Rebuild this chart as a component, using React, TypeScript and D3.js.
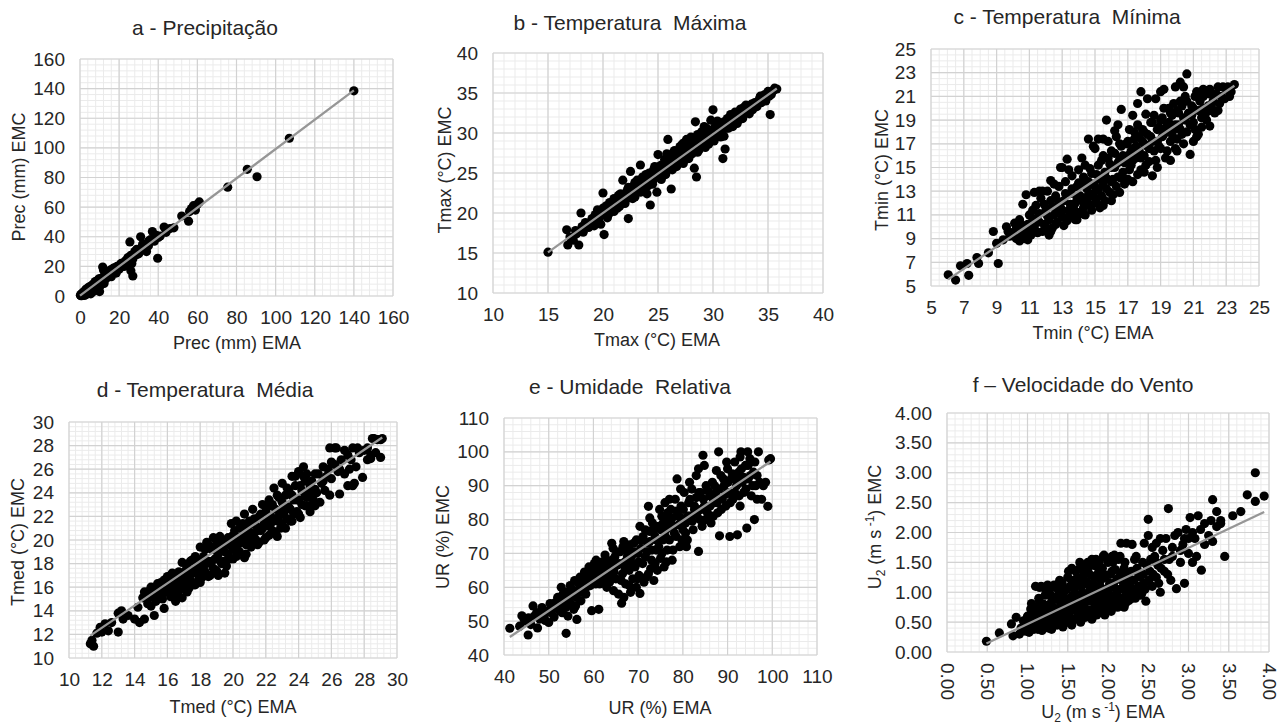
import React, { useEffect, useRef } from 'react'
import * as d3 from 'd3'

type Pt = [number, number]

// a - Precipitação (EMA, EMC)
const precPts: Pt[] = [
  [0.2, 0.5], [0.5, 0.2], [0.8, 1.2], [1, 0.3], [1.2, 1.8], [1.5, 0.8], [1.8, 2.5], [2, 1.2], [2.3, 0.4], [2.5, 3.2],
  [2.8, 2], [3, 4.5], [3.2, 1], [3.5, 3], [3.8, 5.2], [4, 2.2], [4.3, 4], [4.6, 6], [5, 3.5], [5.2, 5],
  [5.5, 1.5], [5.8, 7], [6, 4.5], [6.3, 6.3], [6.6, 2.8], [7, 8.2], [7.2, 5.5], [7.5, 7], [7.8, 9.8], [8, 4],
  [8.3, 8.5], [8.7, 6.2], [9, 10.5], [9.3, 8], [9.6, 11.5], [10, 3], [10.2, 9.5], [10.6, 7.5], [11, 12], [11.3, 10],
  [11.6, 19.5], [12, 17.5], [12.3, 8.5], [12.6, 13], [13, 11.5], [13.5, 15], [14, 12.5], [14.5, 16], [15, 14], [15.5, 17.5],
  [16, 13], [16.5, 18], [17, 16], [17.5, 19], [18, 17.5], [18.5, 15.5], [19, 20], [20, 18], [20.5, 21], [21, 19.5],
  [22, 22], [22.5, 20], [23, 23.5], [24, 21.5], [24.5, 26], [25, 24], [25.5, 36.5], [26, 17], [26.5, 22], [27, 13.5],
  [27.5, 27], [28, 30], [29, 31.5], [30, 28.5], [31, 40], [32, 35], [33, 33.5], [34, 30], [35, 37], [36, 38],
  [37, 43.5], [38, 37], [39, 41], [39.7, 25.5], [40, 39.5], [41, 40.5], [43, 46.5], [44, 43], [46, 45.5], [48, 46],
  [52, 54], [55.5, 50.5], [56, 57], [57, 59], [58, 61], [59, 58], [60, 62], [61, 63.5], [75.5, 73.5], [85.5, 85.5],
  [90.5, 80.5], [107, 106.5], [140, 138.5],
  [0.5, 1], [1, 1.5], [1.5, 2], [2, 2.8], [2.5, 2], [3, 3], [3.5, 4.2], [4, 3.5], [4.5, 5], [5, 6],
  [5.5, 4.5], [6, 6.5], [6.5, 5.5], [7, 6.8], [7.5, 8.5], [8, 7.5], [8.5, 9.5], [9, 7], [9.5, 9.5], [10, 10.5],
  [10.5, 11.5], [11, 9], [11.5, 12.5], [12, 11], [13, 13.5], [14, 15.5], [15, 16.5], [16, 16], [17, 18.5], [18, 19],
  [19, 18], [20, 20.5], [21, 22], [23, 21], [24, 24.5], [25, 22.5], [26, 27.5], [27, 25], [29, 28], [32, 33], [35, 34]
]

// b - Temperatura Máxima
const tmaxPts: Pt[] = [
  [15, 15.1], [16.7, 17.9], [16.8, 16], [17, 17], [17.3, 16.6], [17.6, 17.4], [17.8, 16], [18, 20], [18.1, 18.3], [18.4, 18.8],
  [18.7, 18.2], [19, 19.3], [19.2, 18.4], [19.5, 20.4], [19.6, 19.2], [19.8, 18.6], [20, 22.5], [20.1, 17.3], [20.2, 20], [20.3, 20.9],
  [20.5, 19.8], [20.6, 21.3], [20.8, 20.4], [21, 21.8], [21, 20.2], [21.2, 21], [21.4, 22.2], [21.5, 20.8], [21.7, 21.6], [21.8, 24.1],
  [21.9, 22.3], [22, 21.2], [22.2, 22.8], [22.3, 19.3], [22.4, 21.9], [22.5, 25.2], [22.6, 22.5], [22.8, 23.4], [22.9, 22], [23, 23],
  [23.1, 24.1], [23.3, 22.7], [23.4, 26], [23.5, 23.6], [23.6, 24.5], [23.8, 23.2], [24, 24], [24, 22.4], [24.2, 25], [24.3, 21],
  [24.4, 24.3], [24.5, 23.6], [24.6, 25.4], [24.8, 24.8], [24.9, 22.6], [25, 27.3], [25, 25.2], [25.2, 24.6], [25.3, 26], [25.5, 25.3],
  [25.6, 26.7], [25.7, 24.8], [25.8, 27.4], [25.9, 29.2], [26, 25.8], [26, 26.6], [26.2, 23], [26.2, 27], [26.3, 25.4], [26.5, 26.2],
  [26.5, 27.8], [26.7, 25.8], [26.8, 27.2], [27, 26.6], [27, 28.3], [27.2, 27.6], [27.3, 26.2], [27.4, 28.8], [27.5, 27.2], [27.6, 29.2],
  [27.8, 27.8], [27.8, 26.8], [28, 28.4], [28, 29.5], [28.1, 27.4], [28.2, 28.9], [28.3, 25.6], [28.4, 31.4], [28.5, 24.5], [28.5, 28.2],
  [28.6, 29.8], [28.7, 27.8], [28.8, 29], [29, 28.6], [29, 30.2], [29.2, 29.4], [29.3, 28.2], [29.4, 30.6], [29.5, 29.2], [29.6, 28.6],
  [29.7, 30.2], [29.8, 31.6], [29.9, 29.6], [30, 32.9], [30, 30.4], [30.1, 29], [30.2, 30.8], [30.3, 29.8], [30.4, 31.5], [30.5, 30.2],
  [30.6, 31], [30.7, 29.5], [30.8, 30.6], [30.9, 26.8], [31, 31.4], [31.1, 28], [31.2, 30.6], [31.3, 31.8], [31.5, 31], [31.6, 32.3],
  [31.8, 30.8], [32, 31.6], [32, 32.6], [32.2, 31.2], [32.4, 32], [32.5, 33], [32.7, 31.8], [32.9, 32.5], [33, 33.5], [33.2, 32.6],
  [33.4, 33.2], [33.6, 32.9], [33.8, 33.8], [34, 33.3], [34.2, 34.2], [34.4, 33.8], [34.6, 34.4], [34.8, 34], [35, 35.2], [35.2, 32.3],
  [35.3, 34.8], [35.5, 35.3], [35.8, 35.5],
  [17.5, 17.8], [18.2, 17.6], [18.9, 18.8], [19.3, 19.8], [19.7, 19.8], [20, 20.6], [20.4, 19.4], [20.7, 20.2], [20.9, 21.4], [21.3, 20.6],
  [21.6, 22.4], [21.8, 21.2], [22.1, 22.2], [22.3, 23.2], [22.7, 21.8], [22.9, 23.8], [23.2, 23.4], [23.4, 22.6], [23.7, 24], [23.9, 24.8],
  [24.1, 23.4], [24.3, 24.6], [24.6, 24.2], [24.7, 25.8], [24.9, 25.4], [25.1, 25.8], [25.3, 24.2], [25.4, 25.6], [25.6, 25.2], [25.8, 26],
  [26.1, 26.2], [26.3, 26.8], [26.4, 27.6], [26.6, 26.6], [26.9, 26.4], [27.1, 27.2], [27.2, 28.6], [27.4, 27.8], [27.6, 26.8], [27.7, 28.2],
  [27.9, 29], [28.1, 28.4], [28.3, 29.4], [28.4, 28], [28.6, 27.6], [28.9, 30], [29.1, 29.2], [29.2, 30.8], [29.4, 29.2], [29.6, 30.4],
  [29.8, 29.4], [30.1, 30.2], [30.3, 31.2], [30.5, 29.8], [30.7, 31.2], [30.9, 30.6], [31, 29.6], [31.2, 31.4], [31.4, 30.6], [31.6, 31.4],
  [31.8, 32.2], [31.9, 31.2], [32.1, 32], [32.3, 31.6], [32.6, 32.4], [32.8, 33.2], [33.1, 33], [33.3, 32.4], [33.5, 33.6], [33.7, 33.4],
  [34.1, 33.8], [34.3, 34.6], [34.7, 34.8], [35.1, 34.6], [35.6, 35.6]
]

// c - Temperatura Mínima
const tminPts: Pt[] = [
  [6.05, 5.95], [6.5, 5.5], [6.8, 6.7], [7.2, 6.9], [7.3, 5.9], [7.8, 7.4], [7.9, 6.9], [8.5, 7.8], [8.8, 9.6], [9, 8.6],
  [9.1, 6.9], [9.4, 8.9], [9.6, 10], [9.8, 9.2], [10, 9.5], [10.1, 10.3], [10.2, 9], [10.4, 10.6], [10.5, 9.4], [10.6, 11.9],
  [10.7, 9], [10.8, 12.7], [10.9, 10.2], [11, 11], [11.1, 9.3], [11.2, 10.7], [11.4, 11.8], [11.5, 9.5], [11.6, 10.4], [11.7, 12.4],
  [11.8, 13], [12, 10], [12, 11.4], [12.1, 13], [12.2, 10.6], [12.3, 12.2], [12.4, 9.9], [12.5, 11], [12.6, 12.6], [12.7, 10.4],
  [12.8, 13.4], [12.9, 15], [12.9, 11.6], [13, 10.8], [13.1, 12.2], [13.2, 13.8], [13.3, 15.7], [13.3, 10.5], [13.4, 11.4], [13.5, 12.8],
  [13.6, 14.3], [13.7, 10.9], [13.8, 12], [13.9, 13.4], [14, 11.2], [14, 14.8], [14.1, 12.6], [14.2, 13.6], [14.3, 11.6], [14.4, 15.2],
  [14.5, 12.3], [14.6, 17.4], [14.6, 13.8], [14.7, 11.8], [14.8, 14.5], [14.9, 12.8], [15, 16.6], [15, 13.4], [15.1, 12], [15.2, 15.2],
  [15.3, 14], [15.4, 12.6], [15.5, 16], [15.6, 14.6], [15.7, 19], [15.7, 13.2], [15.8, 17.2], [15.9, 15.3], [16, 13.8], [16, 16.4],
  [16.1, 12.7], [16.2, 15], [16.3, 17.6], [16.4, 14.2], [16.5, 15.7], [16.6, 19.9], [16.6, 16.8], [16.7, 14.6], [16.8, 15.4], [16.9, 17],
  [17, 16], [17, 14], [17.1, 18.2], [17.2, 15.2], [17.3, 16.6], [17.4, 17.4], [17.5, 15.8], [17.6, 18.6], [17.7, 16.4], [17.8, 21.4],
  [17.8, 14.8], [17.9, 17.2], [18, 16], [18, 18], [18.1, 19.5], [18.2, 16.8], [18.3, 15.5], [18.4, 17.6], [18.5, 14.3], [18.5, 18.8],
  [18.6, 16.4], [18.7, 20.8], [18.8, 17.2], [18.9, 18.4], [19, 21.4], [19, 16.6], [19.1, 19.2], [19.2, 17.8], [19.3, 15.8], [19.4, 18.6],
  [19.5, 20], [19.6, 17.2], [19.7, 19.4], [19.8, 18.2], [19.9, 21.8], [20, 16.4], [20, 19.8], [20.1, 18.6], [20.2, 20.6], [20.3, 17.8],
  [20.4, 19.2], [20.5, 21], [20.6, 22.9], [20.6, 18], [20.7, 19.6], [20.8, 16.1], [20.9, 20.2], [21, 18.8], [21.1, 21], [21.2, 17.6],
  [21.3, 19.8], [21.4, 20.6], [21.5, 18.4], [21.6, 21], [21.7, 19.4], [21.8, 21.5], [21.9, 20.2], [22, 19.8], [22.2, 20.6], [22.4, 21.2],
  [22.6, 20.4], [22.8, 21.8], [22.9, 20.8], [23, 21.6], [23.2, 21], [23.5, 22],
  [10.3, 9.8], [10.6, 10.1], [10.9, 9.6], [11.2, 11.4], [11.3, 10], [11.6, 11.1], [11.9, 10.2], [11.9, 11.9], [12.1, 10.9], [12.3, 9.6],
  [12.4, 11.7], [12.6, 10.2], [12.7, 11.3], [12.8, 12.1], [13, 11.4], [13.1, 10.1], [13.2, 12.8], [13.4, 10.9], [13.5, 11.9], [13.6, 13.2],
  [13.7, 11.5], [13.8, 10.6], [13.9, 12.5], [14, 13.7], [14.1, 11.1], [14.2, 12.2], [14.3, 14.2], [14.4, 11.9], [14.5, 13.2], [14.6, 12.7],
  [14.7, 14.9], [14.8, 11.4], [14.9, 13.6], [15, 12.4], [15.1, 14.4], [15.2, 13.1], [15.3, 11.6], [15.4, 15.6], [15.5, 13.6], [15.6, 12.2],
  [15.7, 14.1], [15.8, 15.8], [15.9, 12.9], [16, 15], [16.1, 14], [16.2, 16.2], [16.3, 13.4], [16.4, 15.4], [16.5, 17], [16.6, 14.1],
  [16.7, 16], [16.8, 13.6], [16.9, 15.8], [17, 17.2], [17.1, 14.8], [17.2, 16.4], [17.3, 15.6], [17.4, 18], [17.5, 16.8], [17.6, 14.4],
  [17.7, 17.6], [17.8, 15.8], [17.9, 18.2], [18, 17], [18.1, 15.2], [18.2, 17.8], [18.3, 16.6], [18.4, 18.8], [18.5, 17.2], [18.6, 19.4],
  [18.7, 15.6], [18.8, 18.2], [18.9, 16.8], [19, 19], [19.1, 17.6], [19.2, 20], [19.3, 18.2], [19.4, 16.4], [19.5, 18.8], [19.6, 19.6],
  [19.7, 17.8], [19.8, 20.4], [19.9, 18.6], [20, 17.4], [20.1, 19.6], [20.2, 18.2], [20.3, 20.2], [20.4, 17], [20.5, 19], [20.6, 20.6],
  [20.8, 18.6], [20.9, 19.4], [21, 20], [21.1, 18.2], [21.3, 21], [21.5, 19.2], [21.6, 20], [21.8, 19], [22, 21.2], [22.1, 20.2],
  [22.3, 19.6], [22.5, 21.8], [22.7, 21], [23.1, 21.8], [23.3, 21.4],
  [11.3, 12.9], [11.6, 13], [12.3, 13.9], [12.5, 13.6], [13, 15], [13.4, 14.8], [14.2, 15.8], [14.9, 16.8], [15.2, 17.4], [15.5, 17.4],
  [16.2, 18.1], [16.4, 18.6], [17.3, 19.4], [17.6, 20.4], [18.2, 20.8], [19.2, 21.6], [20.2, 22.2], [20.4, 21.8], [21.2, 21.4], [21.6, 21.6],
  [22, 21.6], [13.9, 10.6], [14.4, 11], [15.5, 11.8], [16, 12.2], [16.5, 12.9], [17.3, 13.8], [18, 14.6], [18.8, 15], [19.6, 15.6],
  [19.9, 16.6], [21, 17.2], [21.3, 17.8], [22, 18.5], [22.5, 19.8], [9.7, 9.6], [10.2, 9.8], [10.4, 8.8], [10.9, 8.9], [11.4, 9.6],
  [11.8, 9.6], [12.2, 9.3]
]

// d - Temperatura Média
const tmedPts: Pt[] = [
  [11.3, 11.2], [11.4, 11.5], [11.5, 11], [11.7, 12.1], [11.9, 12.6], [12, 12.2], [12.2, 12.9], [12.4, 12.3], [12.6, 13], [13, 12.2],
  [13, 13.8], [13.2, 14], [13.3, 13.3], [13.6, 13.6], [14, 13.3], [14.2, 14.3], [14.3, 13], [14.6, 13.3], [14.6, 15.6], [14.8, 14.6],
  [15, 16], [15, 14.4], [15.2, 13.6], [15.3, 15.4], [15.4, 16.3], [15.6, 15.8], [15.8, 14.2], [15.8, 16.6], [16, 15.8], [16, 16.9],
  [16.2, 15.2], [16.3, 17.2], [16.4, 16.2], [16.5, 14.8], [16.6, 17], [16.7, 15.7], [16.8, 16.6], [16.9, 18.1], [17, 16.1], [17.1, 17.4],
  [17.2, 15.6], [17.3, 16.8], [17.4, 18.2], [17.5, 17.2], [17.6, 16.2], [17.7, 18.6], [17.8, 17.6], [17.9, 16.6], [18, 19.4], [18, 17.8],
  [18.1, 16.8], [18.2, 18.6], [18.3, 17.3], [18.4, 19.8], [18.5, 18.2], [18.6, 17], [18.7, 19.2], [18.8, 20.2], [18.9, 18.4], [19, 17.4],
  [19, 19.6], [19.1, 18.8], [19.2, 20.3], [19.3, 18], [19.4, 19.4], [19.5, 17.2], [19.6, 20], [19.7, 18.8], [19.8, 19.6], [19.9, 21.4],
  [20, 18.4], [20, 20.4], [20.1, 19.4], [20.2, 21.6], [20.3, 20.2], [20.4, 19], [20.5, 21], [20.6, 20], [20.7, 18.5], [20.7, 22.2],
  [20.8, 19.6], [20.9, 20.8], [21, 21.6], [21, 19.8], [21.1, 20.6], [21.2, 22.6], [21.3, 20.2], [21.4, 21.2], [21.5, 19.6], [21.6, 22],
  [21.7, 20.8], [21.8, 23], [21.9, 21.4], [22, 20.2], [22, 22.4], [22.1, 21.2], [22.2, 23.4], [22.3, 22], [22.4, 20.8], [22.5, 24.4],
  [22.6, 22.6], [22.7, 20.3], [22.7, 21.6], [22.8, 23.6], [22.9, 22.2], [23, 24.8], [23, 21.4], [23.1, 22.8], [23.2, 23.8], [23.3, 21.8],
  [23.4, 24.2], [23.5, 22.6], [23.6, 25.4], [23.6, 21.6], [23.7, 23.4], [23.8, 24.6], [23.9, 22.4], [24, 25.8], [24, 23.4], [24.1, 21.9],
  [24.2, 24.2], [24.3, 26.2], [24.4, 22.9], [24.4, 25], [24.5, 23.6], [24.6, 22.9], [24.7, 24.6], [24.8, 23.8], [25, 24.3], [25, 22.9],
  [25.2, 25.6], [25.4, 24.8], [25.5, 26.2], [25.7, 25.4], [25.9, 23.8], [25.9, 27.8], [26, 26.6], [26.2, 27.8], [26.4, 25.8], [26.5, 23.9],
  [26.6, 26.8], [26.8, 25.6], [27, 27.2], [27, 24.6], [27.2, 26.8], [27.3, 27.8], [27.4, 24.8], [27.5, 26.2], [27.7, 27.4], [27.9, 25.3],
  [28, 27.6], [28.2, 26.8], [28.4, 27.2], [28.5, 28.6], [28.7, 27.4], [28.8, 28.5], [29, 27], [29.1, 28.6],
  [14.5, 15.1], [14.8, 15.6], [15, 15.2], [15.1, 15.9], [15.3, 14.8], [15.5, 15.3], [15.6, 16.4], [15.7, 15], [15.9, 15.6], [16.1, 16.4],
  [16.2, 17], [16.3, 15.8], [16.5, 16.6], [16.6, 15.4], [16.7, 17.3], [16.8, 16], [16.9, 15.1], [17, 17], [17.1, 16.4], [17.2, 17.8],
  [17.3, 15.9], [17.4, 16.6], [17.5, 18.3], [17.6, 17.4], [17.7, 16.2], [17.8, 18.2], [17.9, 17], [18, 16.4], [18.1, 18.3], [18.2, 17.4],
  [18.3, 19.2], [18.4, 18], [18.5, 16.9], [18.6, 19.5], [18.7, 18.2], [18.8, 17.6], [18.9, 19.2], [19, 18.4], [19.1, 17], [19.2, 19.2],
  [19.3, 20], [19.4, 18.2], [19.5, 19], [19.6, 17.8], [19.7, 20.2], [19.8, 18.4], [19.9, 19.8], [20, 19.2], [20.1, 20.8], [20.2, 18.6],
  [20.3, 19.6], [20.4, 21], [20.5, 19.8], [20.6, 21.4], [20.7, 20.4], [20.8, 18.8], [20.9, 21.2], [21, 20.4], [21.1, 19.4], [21.2, 21.4],
  [21.3, 21.8], [21.4, 20], [21.5, 20.8], [21.6, 19.8], [21.7, 22.2], [21.8, 21], [21.9, 20], [22, 21.6], [22.1, 22.8], [22.2, 20.4],
  [22.3, 21.4], [22.4, 23], [22.5, 21.8], [22.6, 20.6], [22.7, 23.8], [22.8, 22], [22.9, 21], [23, 23.2], [23.1, 22.2], [23.2, 21],
  [23.3, 24.4], [23.4, 22.8], [23.5, 21.6], [23.6, 23.8], [23.7, 22.2], [23.8, 25.4], [23.9, 23.4], [24, 22.2], [24.1, 24.6], [24.2, 23],
  [24.3, 25.4], [24.4, 23.8], [24.5, 25.6], [24.6, 24], [24.7, 22.4], [24.8, 25], [24.9, 23.4], [25, 25.6], [25.1, 24], [25.3, 23.2],
  [25.5, 25], [25.6, 24.2], [25.8, 26], [26, 25.2], [26.2, 26.4], [26.3, 27.8], [26.5, 26], [26.8, 27.6], [27.1, 26], [27.3, 24.6],
  [27.6, 27.8], [28.2, 27.8], [28.4, 26.9], [28.6, 28.6], [29, 28.5]
]

// e - Umidade Relativa
const urPts: Pt[] = [
  [41.3, 47.9], [43.5, 48.5], [44, 51.6], [44.8, 50], [45.4, 45.9], [45.5, 51], [46, 49], [46.5, 54.5], [47.3, 52.5], [47.5, 48],
  [48, 50.6], [48.5, 54], [49, 51.5], [49.5, 53], [50, 49.6], [50.3, 55.2], [51, 53.8], [51.2, 51.2], [52, 57], [52.3, 54.6],
  [52.8, 60], [53, 52.5], [53.5, 56], [53.9, 46.4], [54, 58.5], [54.3, 51.5], [54.8, 60.5], [55, 55], [55.3, 57.5], [55.8, 62],
  [56, 54.5], [56.3, 50.5], [56.5, 59], [57, 63], [57.2, 56], [57.6, 60.5], [58, 64.5], [58.3, 58], [58.7, 62], [59, 66],
  [59.3, 60.5], [59.6, 53.1], [60, 63.5], [60.2, 67], [60.5, 61], [61, 65], [61.2, 53.5], [61.5, 63], [62, 67.5], [62.3, 61.5],
  [62.6, 65.5], [63, 60], [63, 68], [63.5, 63], [64, 66], [64.1, 73], [64.5, 59], [64.8, 69], [65, 62.5], [65.3, 66.5],
  [65.6, 58], [66, 70.5], [66.3, 55.3], [66.5, 64], [67, 67.5], [67.2, 61], [67.5, 71], [68, 65], [68.3, 58.5], [68.5, 69],
  [68.8, 62.5], [69, 73], [69.3, 66], [69.6, 60], [70, 70], [70.2, 63.5], [70.4, 58.2], [70.7, 74], [71, 67], [71.3, 61.5],
  [71.6, 77], [72, 70.5], [72.3, 83.9], [72.3, 64], [72.6, 73.5], [73, 68], [73.2, 79], [73.5, 62], [73.8, 75], [74, 71],
  [74.3, 65], [74.6, 78], [75, 68.5], [75.3, 81], [75.5, 74], [75.8, 66], [76, 85], [76.2, 77], [76.5, 71], [76.8, 80],
  [77, 74], [77.3, 83], [77.6, 68], [78, 78], [78.3, 86], [78.5, 75], [78.7, 92], [79, 81], [79.3, 72], [79.6, 84],
  [80, 77], [80.3, 88], [80.6, 79], [81, 74], [81.3, 85], [81.6, 81], [82, 89], [82.3, 77], [82.6, 83], [83, 93],
  [83, 86.5], [83.5, 70.6], [83.8, 80], [84, 88], [84.5, 99], [84.8, 84], [85.2, 90], [85.5, 82], [86, 87], [86.3, 79],
  [86.6, 91], [87, 85], [87.4, 88], [87.8, 82], [88, 100], [88.2, 75.2], [88.5, 93], [88.8, 86], [89.2, 90], [89.6, 84],
  [90, 95], [90.3, 88], [90.5, 75], [90.8, 92], [91.2, 86], [91.6, 97], [92, 90], [92.2, 75.5], [92.5, 94], [92.8, 84],
  [93, 100], [93.3, 91], [93.6, 88], [94, 96], [94.3, 77.5], [94.6, 92], [95, 98], [95.3, 87], [95.8, 94], [96, 80],
  [96.3, 90], [96.6, 86], [96.9, 100], [97.2, 91], [97.6, 86], [98, 90], [98.5, 91], [99, 83.9], [99.2, 97.6], [99.6, 98],
  [44.5, 50.5], [46.8, 51.5], [48.2, 52.5], [49.2, 50.2], [50.6, 52.5], [51.5, 55.5], [52.5, 53], [53.2, 58], [53.8, 54], [54.5, 56.5],
  [55.2, 59.5], [55.6, 53.5], [56.2, 57], [56.8, 61], [57.4, 58.5], [57.8, 62.5], [58.4, 60], [58.9, 64], [59.5, 62], [59.9, 65.5],
  [60.4, 63], [60.8, 66.5], [61.4, 61], [61.8, 65.5], [62.2, 63.5], [62.8, 67], [63.2, 65], [63.6, 61.5], [64.2, 68], [64.6, 64.5],
  [65.2, 70.5], [65.8, 67], [66.2, 62], [66.6, 72], [67.1, 65.5], [67.6, 69], [68.1, 72.5], [68.6, 67], [69.2, 70.5], [69.6, 74],
  [70.1, 67.5], [70.6, 71.5], [71.1, 75], [71.6, 69], [72.1, 73], [72.6, 76.5], [73.1, 71], [73.6, 77], [74.1, 74], [74.6, 72],
  [75.1, 77], [75.6, 79], [76.1, 75], [76.6, 82], [77.1, 78], [77.6, 80.5], [78.1, 76], [78.6, 82.5], [79.1, 78.5], [79.6, 80.5],
  [80.1, 83], [80.6, 76], [81.1, 81], [81.6, 86], [82.1, 79.5], [82.6, 84], [83.1, 81.5], [83.6, 88], [84.1, 83], [84.6, 86],
  [85.1, 80], [85.6, 88.5], [86.1, 84], [86.6, 86.5], [87.1, 90], [87.6, 85], [88.1, 89], [88.6, 83], [89.1, 92], [89.6, 87.5],
  [90.1, 91], [90.6, 85], [91.1, 93.5], [91.6, 88], [92.1, 92], [92.6, 87], [93.1, 95], [93.6, 92.5], [94.1, 89], [94.6, 96],
  [95.1, 93], [95.6, 90], [96.1, 97], [96.6, 93], [66.8, 57], [68, 60.5], [69.8, 62.5], [71.8, 63], [72.8, 65.5], [73.8, 67],
  [75.3, 70], [76.3, 67.5], [77.8, 71], [79.8, 74], [80.8, 72], [84.3, 78], [86.8, 81], [60.6, 68], [62.6, 69.5], [64.4, 71.5],
  [66.8, 73.5], [70.4, 78], [72.6, 80.5], [74.8, 83], [77, 86], [79.5, 89], [81.5, 91], [83.5, 95], [84.8, 96], [87.5, 94.5],
  [89.8, 97], [92.8, 98.5], [94.5, 100]
]

// f - Velocidade do Vento
const u2Pts: Pt[] = [
  [0.49, 0.18], [0.65, 0.32], [0.8, 0.47], [0.82, 0.27], [0.86, 0.58], [0.9, 0.3], [0.92, 0.4], [0.95, 0.52], [0.97, 0.35], [1, 0.45],
  [1, 0.6], [1.02, 0.33], [1.04, 0.72], [1.05, 0.81], [1.06, 0.5], [1.08, 0.38], [1.1, 0.62], [1.12, 0.45], [1.14, 0.9], [1.15, 0.7],
  [1.17, 1.1], [1.18, 0.36], [1.2, 0.55], [1.2, 0.8], [1.22, 0.95], [1.24, 0.42], [1.25, 0.66], [1.27, 1.05], [1.28, 0.5], [1.3, 0.85],
  [1.3, 0.38], [1.32, 0.6], [1.34, 1.08], [1.35, 0.72], [1.37, 0.45], [1.38, 0.95], [1.4, 0.55], [1.4, 1.2], [1.42, 0.8], [1.44, 0.42],
  [1.45, 1], [1.46, 0.65], [1.48, 0.5], [1.5, 1.25], [1.5, 0.88], [1.52, 0.6], [1.53, 1.1], [1.55, 0.45], [1.56, 0.75], [1.58, 0.98],
  [1.6, 1.35], [1.6, 0.55], [1.62, 0.85], [1.63, 1.15], [1.65, 0.65], [1.66, 0.5], [1.68, 1], [1.7, 1.3], [1.7, 0.78], [1.72, 0.58],
  [1.74, 1.45], [1.75, 0.92], [1.76, 1.12], [1.78, 0.68], [1.8, 1.55], [1.8, 0.55], [1.82, 1], [1.83, 0.82], [1.85, 1.25], [1.86, 0.62],
  [1.88, 1.4], [1.9, 0.9], [1.9, 1.1], [1.92, 0.72], [1.94, 1.6], [1.95, 1.3], [1.96, 0.62], [1.98, 1], [2, 1.5], [2, 0.8],
  [2.02, 1.15], [2.04, 0.68], [2.05, 1.35], [2.07, 0.92], [2.08, 1.62], [2.1, 1.05], [2.12, 0.75], [2.14, 1.25], [2.16, 1.82], [2.17, 0.9],
  [2.2, 1.4], [2.2, 1.1], [2.22, 0.82], [2.25, 1], [2.27, 1.2], [2.3, 1.8], [2.3, 0.9], [2.33, 1.55], [2.35, 1.05], [2.38, 1.3],
  [2.4, 0.95], [2.43, 1.5], [2.45, 1.15], [2.47, 0.85], [2.5, 2.22], [2.5, 1.95], [2.52, 1.35], [2.55, 1.1], [2.58, 1.6], [2.6, 1.25],
  [2.62, 1.45], [2.65, 1], [2.68, 1.7], [2.7, 1.35], [2.72, 1.9], [2.75, 2.4], [2.76, 1.55], [2.78, 1.2], [2.8, 1.75], [2.83, 1.95],
  [2.85, 1.06], [2.87, 2], [2.9, 1.5], [2.93, 1.8], [2.95, 1.15], [2.97, 2.05], [3, 1.65], [3.02, 2.25], [3.05, 1.5], [3.08, 1.9],
  [3.1, 1.6], [3.12, 2.28], [3.16, 1.37], [3.2, 2.15], [3.25, 1.95], [3.3, 2.55], [3.3, 1.85], [3.35, 2.35], [3.4, 2.15], [3.45, 1.6],
  [3.55, 2.28], [3.65, 2.35], [3.73, 2.63], [3.83, 3], [3.83, 2.52], [3.94, 2.61],
  [1.01, 0.52], [1.03, 0.4], [1.05, 0.64], [1.07, 0.46], [1.09, 0.74], [1.11, 0.54], [1.13, 0.38], [1.15, 0.84], [1.16, 0.58], [1.19, 0.46],
  [1.21, 0.68], [1.23, 1.02], [1.23, 0.52], [1.26, 0.78], [1.26, 0.4], [1.29, 0.62], [1.29, 0.95], [1.31, 0.48], [1.33, 0.74], [1.33, 1.12],
  [1.36, 0.56], [1.36, 0.88], [1.39, 0.66], [1.39, 1.05], [1.41, 0.46], [1.41, 0.72], [1.43, 0.92], [1.43, 1.15], [1.46, 0.56], [1.47, 0.82],
  [1.49, 1.05], [1.49, 0.68], [1.51, 0.5], [1.51, 1.35], [1.54, 0.7], [1.54, 0.92], [1.55, 1.2], [1.57, 0.55], [1.57, 0.85], [1.59, 1.08],
  [1.61, 0.68], [1.61, 0.95], [1.62, 1.25], [1.64, 0.58], [1.64, 0.78], [1.65, 1.4], [1.67, 0.88], [1.67, 1.1], [1.69, 0.66], [1.69, 1.22],
  [1.71, 0.95], [1.72, 0.72], [1.73, 1.18], [1.74, 0.6], [1.75, 1.35], [1.77, 0.85], [1.77, 1.02], [1.79, 1.28], [1.79, 0.7], [1.81, 0.62],
  [1.81, 1.15], [1.82, 1.45], [1.84, 0.9], [1.84, 0.72], [1.85, 1.08], [1.87, 1.3], [1.87, 0.8], [1.89, 1.5], [1.89, 0.66], [1.91, 1.2],
  [1.91, 0.98], [1.93, 0.8], [1.93, 1.4], [1.95, 1.05], [1.97, 0.74], [1.97, 1.25], [1.99, 0.9], [1.99, 1.55], [2.01, 1.08], [2.01, 0.7],
  [2.03, 1.3], [2.03, 0.95], [2.05, 0.78], [2.06, 1.5], [2.07, 1.15], [2.09, 0.85], [2.09, 1.38], [2.11, 0.98], [2.11, 1.22], [2.13, 0.8],
  [2.13, 1.55], [2.15, 1.05], [2.16, 1.32], [2.18, 0.88], [2.18, 1.18], [2.2, 0.75], [2.21, 1.5], [2.23, 0.98], [2.24, 1.3], [2.26, 0.86],
  [2.27, 1.1], [2.29, 1.35], [2.31, 1], [2.32, 1.2], [2.34, 0.9], [2.36, 1.4], [2.38, 1.1], [2.4, 1.25], [2.42, 0.98], [2.44, 1.3],
  [2.46, 1.05], [2.48, 1.45], [2.51, 1.2], [2.53, 1.55], [2.56, 1.3], [2.6, 1.5], [2.63, 1.15], [2.66, 1.4], [2.7, 1.55], [2.74, 1.3],
  [2.8, 1.6], [2.9, 1.7], [2.95, 1.9], [3, 1.9], [3.05, 2], [3.15, 2.05], [3.2, 1.8], [3.28, 2.2], [3.35, 2.1], [3.4, 2.2],
  [1.1, 1.1], [1.15, 1.08], [1.25, 1.12], [1.55, 1.4], [1.65, 1.5], [1.75, 1.5], [1.85, 1.55], [1.95, 1.62], [2.05, 1.6], [2.15, 1.6],
  [2.23, 1.82], [2.35, 1.6], [2.55, 1.75], [2.6, 1.82], [2.45, 1.82], [2.65, 1.9]
]

// trend lines: [slope, intercept]
const precFit = [0.99, 0.2]
const tmaxFit = [0.985, 0.3]
const tminFit = [0.936, -0.1]
const tmedFit = [0.943, 1.24]
const urFit = [0.889, 8.6]
const u2Fit = [0.638, -0.17]

const titles = ['a - Precipitação', 'b - Temperatura  Máxima', 'c - Temperatura  Mínima', 'd - Temperatura  Média', 'e - Umidade  Relativa', 'f – Velocidade do Vento']

const panels = [
  { title: titles[0], pts: precPts, fit: precFit, domain: [0, 160], step: 20, minor: 5, fmt: d3.format('d'),
    box: [80, 393, 59, 296], titleAt: [205, 28], xTitle: 'Prec (mm) EMA', yTitle: 'Prec (mm) EMC', xTitleAt: [237, 343], yTitleAt: [19, 177] },
  { title: titles[1], pts: tmaxPts, fit: tmaxFit, domain: [10, 40], step: 5, minor: 5, fmt: d3.format('d'),
    box: [493, 823, 53, 293], titleAt: [630, 23], xTitle: 'Tmax (°C) EMA', yTitle: 'Tmax (°C) EMC', xTitleAt: [657, 340], yTitleAt: [445, 170] },
  { title: titles[2], pts: tminPts, fit: tminFit, domain: [5, 25], step: 2, minor: 4, fmt: d3.format('d'),
    box: [931, 1259, 49, 286], titleAt: [1067, 17], xTitle: 'Tmin (°C) EMA', yTitle: 'Tmin (°C) EMC', xTitleAt: [1093, 333], yTitleAt: [882, 170] },
  { title: titles[3], pts: tmedPts, fit: tmedFit, domain: [10, 30], step: 2, minor: 5, fmt: d3.format('d'),
    box: [69, 397, 422, 658], titleAt: [205, 390], xTitle: 'Tmed (°C) EMA', yTitle: 'Tmed (°C) EMC', xTitleAt: [233, 707], yTitleAt: [18, 542] },
  { title: titles[4], pts: urPts, fit: urFit, domain: [40, 110], step: 10, minor: 5, fmt: d3.format('d'),
    box: [504, 817, 418, 655], titleAt: [630, 387], xTitle: 'UR (%) EMA', yTitle: 'UR (%) EMC', xTitleAt: [660, 708], yTitleAt: [443, 537] },
  { title: titles[5], pts: u2Pts, fit: u2Fit, domain: [0, 4], step: 0.5, minor: 5, fmt: d3.format('.2f'), rotate: true,
    box: [947, 1269, 413, 652], titleAt: [1083, 385], xTitle: 'U2 EMA', yTitle: 'U2 EMC', xTitleAt: [1103, 712], yTitleAt: [875, 527] }
]

const FONT = '"Liberation Sans", Arial, sans-serif'
const TEXT = '#262626'

export default function App() {
  const ref = useRef<SVGSVGElement>(null)

  useEffect(() => {
    const svg = d3.select(ref.current)
    svg.selectAll('*').remove()

    panels.forEach((p, idx) => {
      const [l, r, t, b] = p.box
      const x = d3.scaleLinear().domain(p.domain).range([l, r])
      const y = d3.scaleLinear().domain(p.domain).range([b, t])
      const g = svg.append('g')

      const majors = d3.range(p.domain[0], p.domain[1] + p.step / 2, p.step)
      const minors = d3.range(p.domain[0], p.domain[1] + 1e-9, p.step / p.minor)

      // grid
      g.selectAll('.mx').data(minors).enter().append('line')
        .attr('x1', d => x(d)).attr('x2', d => x(d)).attr('y1', t).attr('y2', b)
        .attr('stroke', '#ebebeb').attr('stroke-width', 1)
      g.selectAll('.my').data(minors).enter().append('line')
        .attr('y1', d => y(d)).attr('y2', d => y(d)).attr('x1', l).attr('x2', r)
        .attr('stroke', '#ebebeb').attr('stroke-width', 1)
      g.selectAll('.Mx').data(majors).enter().append('line')
        .attr('x1', d => x(d)).attr('x2', d => x(d)).attr('y1', t).attr('y2', b)
        .attr('stroke', '#d2d2d2').attr('stroke-width', 1.2)
      g.selectAll('.My').data(majors).enter().append('line')
        .attr('y1', d => y(d)).attr('y2', d => y(d)).attr('x1', l).attr('x2', r)
        .attr('stroke', '#d2d2d2').attr('stroke-width', 1.2)

      // points
      g.append('g').selectAll('circle').data(p.pts).enter().append('circle')
        .attr('cx', d => x(d[0])).attr('cy', d => y(d[1])).attr('r', 4.6)
        .attr('fill', '#000')

      // trend line
      const ext = d3.extent(p.pts, d => d[0]) as [number, number]
      const x0 = idx === 0 ? 0 : ext[0]
      g.append('path')
        .datum([x0, ext[1]])
        .attr('d', d3.line<number>().x(v => x(v)).y(v => y(p.fit[0] * v + p.fit[1])))
        .attr('stroke', '#969696').attr('stroke-width', 2.3).attr('fill', 'none')

      // axes
      const yAxis = g.append('g').attr('transform', `translate(${l},0)`)
        .call(d3.axisLeft(y).tickValues(majors).tickFormat(p.fmt as any).tickSize(0).tickPadding(15))
      const xAxis = g.append('g').attr('transform', `translate(0,${b})`)
        .call(d3.axisBottom(x).tickValues(majors).tickFormat(p.fmt as any).tickSize(0).tickPadding(15))
      ;[xAxis, yAxis].forEach(a => {
        a.select('.domain').remove()
        a.selectAll('text').attr('font-family', FONT).attr('font-size', 19).attr('fill', TEXT)
      })
      if (p.rotate) {
        xAxis.selectAll('text')
          .attr('transform', 'rotate(90)')
          .attr('text-anchor', 'start')
          .attr('x', 11).attr('y', 0).attr('dy', '0.35em')
      }

      // titles
      g.append('text').attr('x', p.titleAt[0]).attr('y', p.titleAt[1]).attr('dy', '0.35em')
        .attr('text-anchor', 'middle').attr('font-family', FONT).attr('font-size', 21)
        .attr('fill', TEXT).attr('xml:space', 'preserve').text(p.title)

      const xt = g.append('text').attr('x', p.xTitleAt[0]).attr('y', p.xTitleAt[1]).attr('dy', '0.35em')
        .attr('text-anchor', 'middle').attr('font-family', FONT).attr('font-size', 18).attr('fill', TEXT)
      const yt = g.append('text')
        .attr('transform', `translate(${p.yTitleAt[0]},${p.yTitleAt[1]}) rotate(-90)`).attr('dy', '0.35em')
        .attr('text-anchor', 'middle').attr('font-family', FONT).attr('font-size', 18).attr('fill', TEXT)

      if (p.rotate) {
        ;[[xt, 'EMA'], [yt, 'EMC']].forEach(([el, tail]: any) => {
          el.append('tspan').text('U')
          el.append('tspan').attr('font-size', 12).attr('dy', 4).text('2')
          el.append('tspan').attr('dy', -4).text(' (m s')
          el.append('tspan').attr('font-size', 12).attr('dy', -7).text(' -1')
          el.append('tspan').attr('dy', 7).text(`) ${tail}`)
        })
      } else {
        xt.text(p.xTitle)
        yt.text(p.yTitle)
      }
    })
  }, [])

  return (
    <div style={{ position: 'absolute', left: 0, top: 0, background: '#fff' }}>
      <svg ref={ref} width={1281} height={725} style={{ display: 'block' }} />
    </div>
  )
}
